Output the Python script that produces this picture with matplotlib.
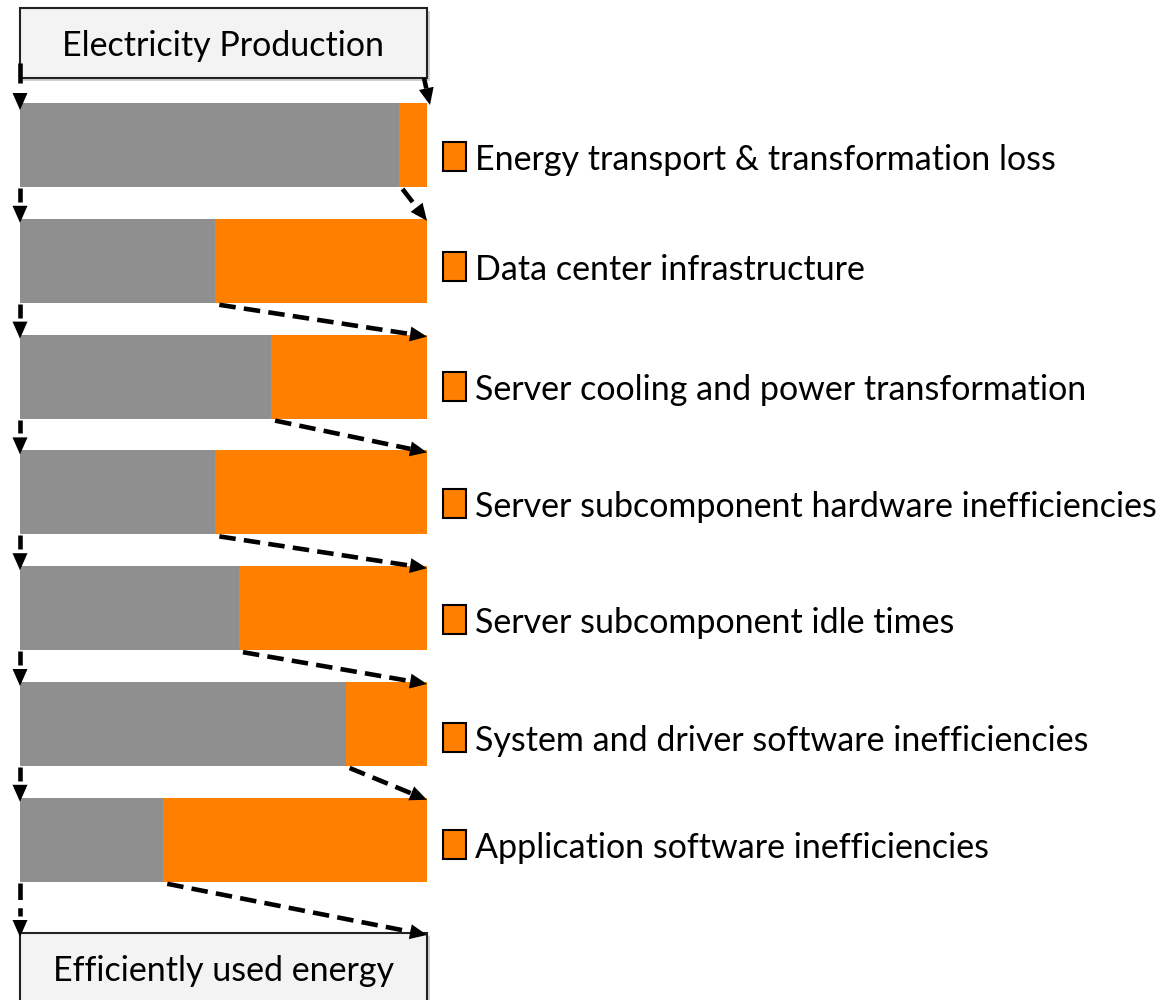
import numpy as np
import matplotlib.pyplot as plt
from matplotlib.patches import Rectangle, Polygon

plt.rcParams['font.family'] = ['Lato', 'DejaVu Sans']

# stages of energy loss, top to bottom
stages = ['Energy transport & transformation loss',
          'Data center infrastructure',
          'Server cooling and power transformation',
          'Server subcomponent hardware inefficiencies',
          'Server subcomponent idle times',
          'System and driver software inefficiencies',
          'Application software inefficiencies']
# share of each bar that is passed on (gray), rest is lost (orange)
passed = [0.93, 0.48, 0.617, 0.48, 0.538, 0.80, 0.352]

GRAY = '#8f8f8f'
ORANGE = '#ff7f00'

fig = plt.figure(figsize=(11.74, 10), dpi=100)
ax = fig.add_axes([0, 0, 1, 1])
ax.set_xlim(0, 1174)
ax.set_ylim(1000, 0)
ax.axis('off')

x0, bw = 20, 407          # bar left edge and full width (pixels)
top, step, bh = 103, 115.8, 84
yc = top + bh / 2 + step * np.arange(len(stages))
gray_w = np.array(passed) * bw

ax.barh(yc, gray_w, left=x0, height=bh, color=GRAY, linewidth=0)
ax.barh(yc, bw - gray_w, left=x0 + gray_w, height=bh, color=ORANGE, linewidth=0)


def arrow(xa, ya, xb, yb, dashed=True, gap=0):
    d = np.array([xb - xa, yb - ya], float)
    u = d / np.hypot(*d)
    n = np.array([-u[1], u[0]])
    hl, hw = 17, 7.5
    base = np.array([xb, yb]) - u * hl
    end = base - u * gap
    kw = dict(dashes=(3.6, 1.8)) if dashed else {}
    ax.plot([xa, end[0]], [ya, end[1]], color='k', lw=3.3,
            solid_capstyle='butt', dash_capstyle='butt', **kw)
    tri = [(xb, yb), tuple(base + n * hw), tuple(base - n * hw)]
    ax.add_patch(Polygon(tri, closed=True, color='k', lw=0))


def box(y0, y1, text, ty):
    ax.add_patch(Rectangle((x0 + 3, y0 + 3), bw, y1 - y0, color='#b0b0b0', lw=0, alpha=0.6))
    ax.add_patch(Rectangle((x0, y0), bw, y1 - y0, facecolor='#f3f3f3',
                           edgecolor='#222222', lw=1.5))
    ax.text(x0 + bw / 2, ty, text, ha='center', va='center', fontsize=24.5)


box(8, 78, 'Electricity Production', 46)
box(933, 1010, 'Efficiently used energy', 971)

# arrows into the first bar
arrow(x0, 63, x0, 110, dashed=False, gap=10)
arrow(424, 78, 430, 105, dashed=False)

bar_tops = yc - bh / 2
bar_bots = yc + bh / 2
for i in range(len(stages)):
    last = i + 1 == len(stages)
    nxt_top = 933 if last else bar_tops[i + 1]
    # left: passed-on energy
    arrow(x0, bar_bots[i] + 1, x0, nxt_top + 4, dashed=last, gap=4)
    # right: from loss boundary to next bar corner
    arrow(x0 + gray_w[i] + 4, bar_bots[i] + 2, x0 + bw, nxt_top + 2)

# legend squares and labels
lab_off = [15, 9, 13, 15, 15, 17, 8]
for i, s in enumerate(stages):
    ty = yc[i] + lab_off[i]
    ax.add_patch(Rectangle((443, ty - 18), 23, 29, facecolor=ORANGE,
                           edgecolor='k', lw=1.5))
    ax.text(475, ty, s, ha='left', va='center', fontsize=24.5)

fig.savefig('out.png', dpi=100)
